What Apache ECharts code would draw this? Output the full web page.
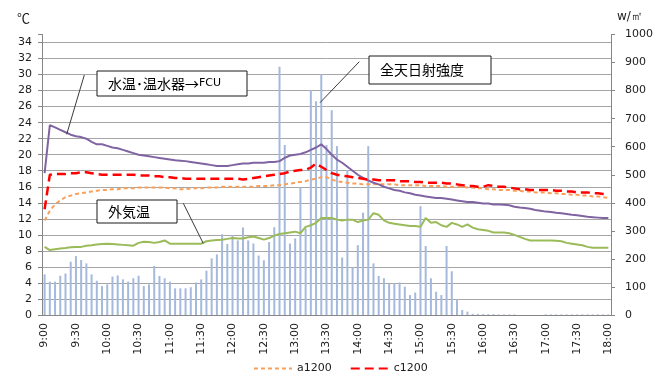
<!DOCTYPE html>
<html>
<head>
<meta charset="utf-8">
<script src="https://cdn.jsdelivr.net/npm/echarts@6/dist/echarts.min.js"></script>
<style>
  html, body { margin: 0; padding: 0; background: #ffffff; }
  #chart { width: 672px; height: 374px; }
</style>
</head>
<body>
<div id="chart"></div>
<script>
// 5-minute time steps, 9:00 – 18:00
const times = [];
for (let m = 9 * 60; m <= 18 * 60; m += 5) {
  times.push(Math.floor(m / 60) + ':' + String(m % 60).padStart(2, '0'));
}

// 全天日射強度 [W/m2] (right axis)
const solar = [
  145,119,119,140,148,190,210,196,184,145,122,103,109,137,141,127,119,131,140,103,109,175,
  139,131,119,95,95,95,99,116,127,158,202,216,288,253,285,266,312,266,
  255,212,195,260,313,
  885,606,255,273,455,309,802,762,859,606,730,602,205,517,170,249,365,602,184,139,131,110,113,116,101,71,80,
  388,246,131,83,71,246,156,56,18,12,4,4,3,3,3,2,2,2,2,
  0,0,0,0,0,
  2,2,2,2,2,2,2,2,2,2,2,2,2
];

// 水温・温水器→FCU [°C]
const waterTemp = [
  17.7,23.7,23.4,23.1,22.8,22.5,22.3,22.2,22.0,21.6,
  21.3,21.3,21.1,20.9,20.8,20.6,20.4,20.2,20.0,19.9,
  19.8,19.7,19.6,19.5,19.4,19.3,19.25,19.2,19.1,19.0,
  18.9,18.8,18.7,18.6,18.6,18.6,18.7,18.8,18.9,18.9,
  19.0,19.0,19.0,19.1,19.1,19.2,19.6,19.9,20.0,20.1,
  20.3,20.6,20.9,21.3,20.7,20.0,19.4,19.0,18.5,18.0,
  17.5,17.1,16.8,16.5,16.3,16.0,15.8,15.6,15.5,15.3,
  15.2,15.0,14.9,14.8,14.7,14.6,14.6,14.5,14.4,14.3,
  14.2,14.1,14.1,14.0,13.9,13.9,13.8,13.8,13.75,13.7,
  13.5,13.4,13.35,13.25,13.1,13.0,12.9,12.85,12.75,12.7,
  12.6,12.5,12.45,12.35,12.25,12.2,12.15,12.1,12.1
];

// c1200 [°C]
const c1200 = [
  13.2,17.5,17.6,17.6,17.6,17.7,17.7,17.8,17.8,17.7,
  17.6,17.5,17.5,17.5,17.5,17.5,17.5,17.5,17.4,17.4,
  17.4,17.3,17.3,17.2,17.2,17.1,17.1,17.0,17.0,17.0,
  17.0,17.0,17.0,17.0,17.0,17.0,17.0,17.0,16.9,17.0,
  17.1,17.2,17.3,17.4,17.5,17.6,17.7,17.9,18.0,18.1,
  18.1,18.4,18.9,18.5,18.1,17.7,17.5,17.4,17.3,17.2,
  17.1,17.0,16.9,16.9,16.8,16.8,16.8,16.8,16.7,16.7,
  16.7,16.6,16.6,16.5,16.5,16.5,16.5,16.4,16.4,16.3,
  16.2,16.1,16.1,16.0,16.0,16.2,16.1,16.0,16.0,15.9,
  15.8,15.7,15.7,15.6,15.6,15.6,15.6,15.6,15.5,15.5,
  15.4,15.4,15.3,15.3,15.3,15.2,15.2,15.1,15.0
];

// a1200 [°C]
const a1200 = [
  11.8,13.0,13.8,14.3,14.7,14.9,15.1,15.2,15.3,15.4,
  15.5,15.6,15.6,15.7,15.7,15.8,15.8,15.8,15.9,15.9,
  15.9,15.9,15.9,15.9,15.8,15.8,15.7,15.7,15.8,15.8,
  15.8,15.9,15.9,15.9,16.0,16.0,16.0,16.0,16.0,16.0,
  16.0,16.1,16.1,16.1,16.2,16.2,16.3,16.4,16.5,16.6,
  16.7,16.9,17.0,17.2,17.2,16.9,16.7,16.6,16.5,16.4,
  16.4,16.3,16.3,16.3,16.3,16.3,16.3,16.3,16.2,16.2,
  16.2,16.2,16.2,16.1,16.1,16.1,16.1,16.0,16.0,16.0,
  16.0,15.9,15.9,15.8,15.8,15.7,15.7,15.6,15.6,15.6,
  15.5,15.5,15.4,15.4,15.3,15.3,15.3,15.2,15.2,15.1,
  15.1,15.0,15.0,14.9,14.9,14.8,14.8,14.7,14.6
];

// 外気温 [°C]
const outdoor = [
  8.5,8.1,8.2,8.3,8.35,8.45,8.5,8.5,8.65,8.7,
  8.8,8.85,8.9,8.85,8.8,8.75,8.7,8.65,9.0,9.15,
  9.1,9.0,9.1,9.3,8.9,8.9,8.9,8.9,8.9,8.9,
  8.9,9.2,9.3,9.35,9.4,9.5,9.6,9.55,9.55,9.7,
  9.8,9.6,9.4,9.6,9.9,10.1,10.2,10.3,10.4,10.2,
  11.0,11.2,11.5,12.1,12.1,12.1,11.9,11.8,11.9,11.9,
  11.6,11.8,11.9,12.7,12.5,11.8,11.5,11.4,11.3,11.2,
  11.1,11.1,11.0,12.1,11.5,11.6,11.2,11.0,11.5,11.3,
  11.0,11.3,10.9,10.7,10.6,10.5,10.3,10.3,10.3,10.2,
  10.0,9.75,9.5,9.3,9.3,9.3,9.3,9.3,9.25,9.2,
  9.0,8.9,8.8,8.7,8.5,8.4,8.4,8.4,8.4
];

const AXIS_GREY = '#868686';
const GRID_GREY = '#a6a6a6';
const TEXT = '#1c1c1c';
const FONT = '"DejaVu Sans", Verdana, sans-serif';
const JP = '"Noto Sans CJK JP", "Noto Sans", sans-serif';

function calloutBox(x, y, w, h, rich, textX, lineFrom, lineTo) {
  return [
    { type: 'line', silent: true, z: 100,
      shape: { x1: lineFrom[0], y1: lineFrom[1], x2: lineTo[0], y2: lineTo[1] },
      style: { stroke: '#3a3a3a', lineWidth: 1 } },
    { type: 'rect', silent: true, z: 100,
      shape: { x: x, y: y, width: w, height: h },
      style: { fill: '#ffffff', stroke: '#1a1a1a', lineWidth: 1 } },
    { type: 'text', silent: true, z: 101,
      x: textX, y: y + h / 2,
      style: Object.assign({ fill: '#000', verticalAlign: 'middle', align: 'left',
        font: '14px ' + JP }, rich) }
  ];
}

const chart = echarts.init(document.getElementById('chart'), null, { renderer: 'canvas' });

chart.setOption({
  animation: false,
  backgroundColor: '#ffffff',
  textStyle: { fontFamily: FONT },
  grid: { left: 42, right: 61, top: 34.5, bottom: 59, outerBoundsMode: 'none' },
  legend: {
    data: ['a1200', 'c1200'],
    left: 248, top: 358,
    itemWidth: 38, itemHeight: 10, itemGap: 18,
    itemStyle: { opacity: 0 },
    textStyle: { fontSize: 11, color: TEXT, fontFamily: FONT }
  },
  xAxis: {
    type: 'category',
    data: times,
    boundaryGap: true,
    axisLine: { lineStyle: { color: AXIS_GREY } },
    axisTick: { interval: 5, length: 5, lineStyle: { color: AXIS_GREY } },
    axisLabel: { interval: 5, rotate: 90, margin: 8, fontSize: 11, color: TEXT, fontFamily: FONT },
    splitLine: { show: false }
  },
  yAxis: [
    {
      type: 'value', min: 0, max: 35, interval: 2,
      axisLine: { show: true, lineStyle: { color: AXIS_GREY } },
      axisTick: { show: true, length: 4, lineStyle: { color: AXIS_GREY } },
      axisLabel: { fontSize: 11, color: TEXT, margin: 10, fontFamily: FONT,
        formatter: v => (v > 34 ? '' : String(v)) },
      splitLine: { show: true, showMaxLine: false, lineStyle: { color: GRID_GREY, width: 1 } }
    },
    {
      type: 'value', min: 0, max: 1000, interval: 100, position: 'right',
      axisLine: { show: true, lineStyle: { color: AXIS_GREY } },
      axisTick: { show: true, length: 4, lineStyle: { color: AXIS_GREY } },
      axisLabel: { fontSize: 11, color: TEXT, margin: 14, fontFamily: FONT,
        formatter: v => String(v) },
      splitLine: { show: false }
    }
  ],
  series: [
    { name: '全天日射強度', type: 'bar', yAxisIndex: 1, data: solar,
      barWidth: 2, itemStyle: { color: '#a5b9dd' }, z: 1 },
    { name: '外気温', type: 'line', data: outdoor, symbol: 'none', z: 3,
      lineStyle: { color: '#9bbb59', width: 2 } },
    { name: 'a1200', type: 'line', data: a1200, symbol: 'none', z: 4,
      itemStyle: { color: '#f8a05a' },
      lineStyle: { color: '#f8a05a', width: 2, type: [4, 3] } },
    { name: 'c1200', type: 'line', data: c1200, symbol: 'none', z: 5,
      itemStyle: { color: '#ff0000' },
      lineStyle: { color: '#ff0000', width: 2.5, type: [9, 5] } },
    { name: '水温・温水器→FCU', type: 'line', data: waterTemp, symbol: 'none', z: 4,
      lineStyle: { color: '#8064a2', width: 2 } }
  ],
  graphic: [
    // axis units
    { type: 'text', silent: true, x: 17, y: 18,
      style: { text: '℃', font: '13px ' + JP, fill: TEXT, verticalAlign: 'middle' } },
    { type: 'text', silent: true, x: 617, y: 17,
      style: { text: 'w/㎡', font: '12px ' + FONT, fill: TEXT, verticalAlign: 'middle' } }
  ]
  .concat(calloutBox(97, 71, 150, 25,
    { text: '{a|水温･温水器→}{b|FCU}',
      rich: { a: { font: '14px ' + JP, fill: '#000' }, b: { font: '11px ' + FONT, fill: '#000' } } },
    108, [84.3, 75], [66.7, 134.3]))
  .concat(calloutBox(97, 200, 80, 23, { text: '外気温' }, 108, [183.3, 203.3], [203.3, 243.5]))
  .concat(calloutBox(369, 56, 122, 28, { text: '全天日射強度' }, 380, [359.3, 61.7], [320, 102.7]))
});
</script>
</body>
</html>
